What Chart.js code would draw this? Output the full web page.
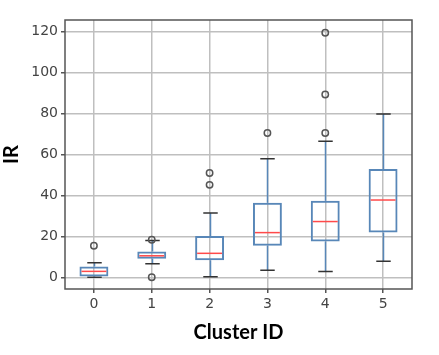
<!DOCTYPE html>
<html>
<head>
<meta charset="utf-8">
<script src="https://cdn.jsdelivr.net/npm/chart.js@4"></script>
<style>
  html, body { margin: 0; padding: 0; background: #fff; }
  #wrap { width: 439px; height: 355px; }
</style>
</head>
<body>
<div id="wrap"><canvas id="box"></canvas></div>
<script>
// ── DATA ─────────────────────────────────────────────────────────────────
const clusters    = ['0', '1', '2', '3', '4', '5'];
const q1          = [0.4, 9.1, 8.3, 15.4, 17.5, 21.8];
const medians     = [2.9, 10.5, 11.7, 21.8, 27.2, 37.7];
const q3          = [5.3, 12.6, 20.2, 36.4, 37.4, 52.8];
const whiskerLow  = [0, 6.6, 0.3, 3.4, 2.8, 7.8];
const whiskerHigh = [7.1, 18.0, 31.4, 57.8, 66.4, 79.6];
const outliers    = [[15.4], [18.3, 0], [45.1, 50.9], [70.4], [70.4, 89.2, 119.3], []];
const yTicks      = [0, 20, 40, 60, 80, 100, 120];

// ── STYLE ────────────────────────────────────────────────────────────────
const BLUE   = '#5887b8';
const RED    = '#ff4a4a';
const CAP    = '#333333';
const GRID   = '#bfbfbf';
const FRAME  = '#555555';
const TICKC  = '#444444';

const outlierPoints = outliers.flatMap((vals, i) => vals.map(v => ({ x: clusters[i], y: v })));

// whiskers, caps and medians drawn from the data through the scales
const boxParts = {
  id: 'boxParts',
  beforeDatasetsDraw(chart) {
    const { ctx, scales: { x, y } } = chart;
    const unit = x.getPixelForValue(1) - x.getPixelForValue(0);
    const capHalf = unit * 0.125;
    ctx.save();
    ctx.lineWidth = 1.5;
    clusters.forEach((c, i) => {
      const cx = Math.round(x.getPixelForValue(i)) + 0.5;
      ctx.strokeStyle = BLUE;
      ctx.beginPath();
      ctx.moveTo(cx, y.getPixelForValue(q3[i]));
      ctx.lineTo(cx, y.getPixelForValue(whiskerHigh[i]));
      ctx.moveTo(cx, y.getPixelForValue(q1[i]));
      ctx.lineTo(cx, y.getPixelForValue(whiskerLow[i]));
      ctx.stroke();
      ctx.strokeStyle = CAP;
      ctx.beginPath();
      [whiskerHigh[i], whiskerLow[i]].forEach(v => {
        const py = y.getPixelForValue(v);
        ctx.moveTo(cx - capHalf, py);
        ctx.lineTo(cx + capHalf, py);
      });
      ctx.stroke();
    });
    ctx.restore();
  },
  afterDatasetsDraw(chart) {
    const { ctx, scales: { x, y } } = chart;
    const unit = x.getPixelForValue(1) - x.getPixelForValue(0);
    const boxHalf = unit * 0.25;
    ctx.save();
    ctx.lineWidth = 1.5;
    ctx.strokeStyle = RED;
    clusters.forEach((c, i) => {
      const cx = x.getPixelForValue(i);
      const py = y.getPixelForValue(medians[i]);
      ctx.beginPath();
      ctx.moveTo(cx - boxHalf + 2, py);
      ctx.lineTo(cx + boxHalf - 2, py);
      ctx.stroke();
    });
    ctx.restore();
  },
  afterDraw(chart) {
    const { ctx, chartArea: a } = chart;
    ctx.save();
    ctx.strokeStyle = FRAME;
    ctx.lineWidth = 1.5;
    ctx.strokeRect(a.left, a.top, a.right - a.left, a.bottom - a.top);
    ctx.restore();
  }
};

new Chart(document.getElementById('box'), {
  type: 'bar',
  data: {
    labels: clusters,
    datasets: [
      {
        type: 'bar',
        data: clusters.map((c, i) => [q1[i], q3[i]]),
        backgroundColor: 'rgba(0,0,0,0)',
        borderColor: BLUE,
        borderWidth: 2,
        borderSkipped: false,
        barPercentage: 0.5,
        categoryPercentage: 1
      },
      {
        type: 'line',
        data: outlierPoints,
        showLine: false,
        pointRadius: 3.2,
        pointBorderWidth: 1.5,
        pointBorderColor: '#555555',
        pointBackgroundColor: 'rgba(0,0,0,0)'
      }
    ]
  },
  options: {
    responsive: true,
    maintainAspectRatio: false,
    animation: false,
    layout: { padding: { top: 20, right: 27, left: 0, bottom: 0 } },
    plugins: { legend: { display: false }, tooltip: { enabled: false } },
    scales: {
      x: {
        type: 'category',
        offset: true,
        grid: { offset: false, color: GRID, lineWidth: 1.5, tickLength: 4, tickColor: FRAME },
        border: { display: false },
        ticks: { font: { family: 'DejaVu Sans', size: 14 }, color: TICKC, padding: 3 },
        title: {
          display: true, text: 'Cluster ID', color: '#000',
          font: { family: 'Lato', size: 20, weight: 'bold' },
          padding: { top: 0, bottom: 10 }
        },
        afterFit: s => { s.height = 66; }
      },
      y: {
        min: -5.7,
        max: 125.5,
        afterBuildTicks: s => { s.ticks = yTicks.map(v => ({ value: v })); },
        grid: { color: GRID, lineWidth: 1.5, tickLength: 4, tickColor: FRAME },
        border: { display: false },
        ticks: { font: { family: 'DejaVu Sans', size: 14 }, color: TICKC, padding: 3 },
        title: {
          display: true, text: 'IR', color: '#000',
          font: { family: 'Lato', size: 20, weight: 'bold' },
          padding: { top: 0, bottom: 0 }
        },
        afterFit: s => { s.width = 65; }
      }
    }
  },
  plugins: [boxParts]
});
</script>
</body>
</html>
